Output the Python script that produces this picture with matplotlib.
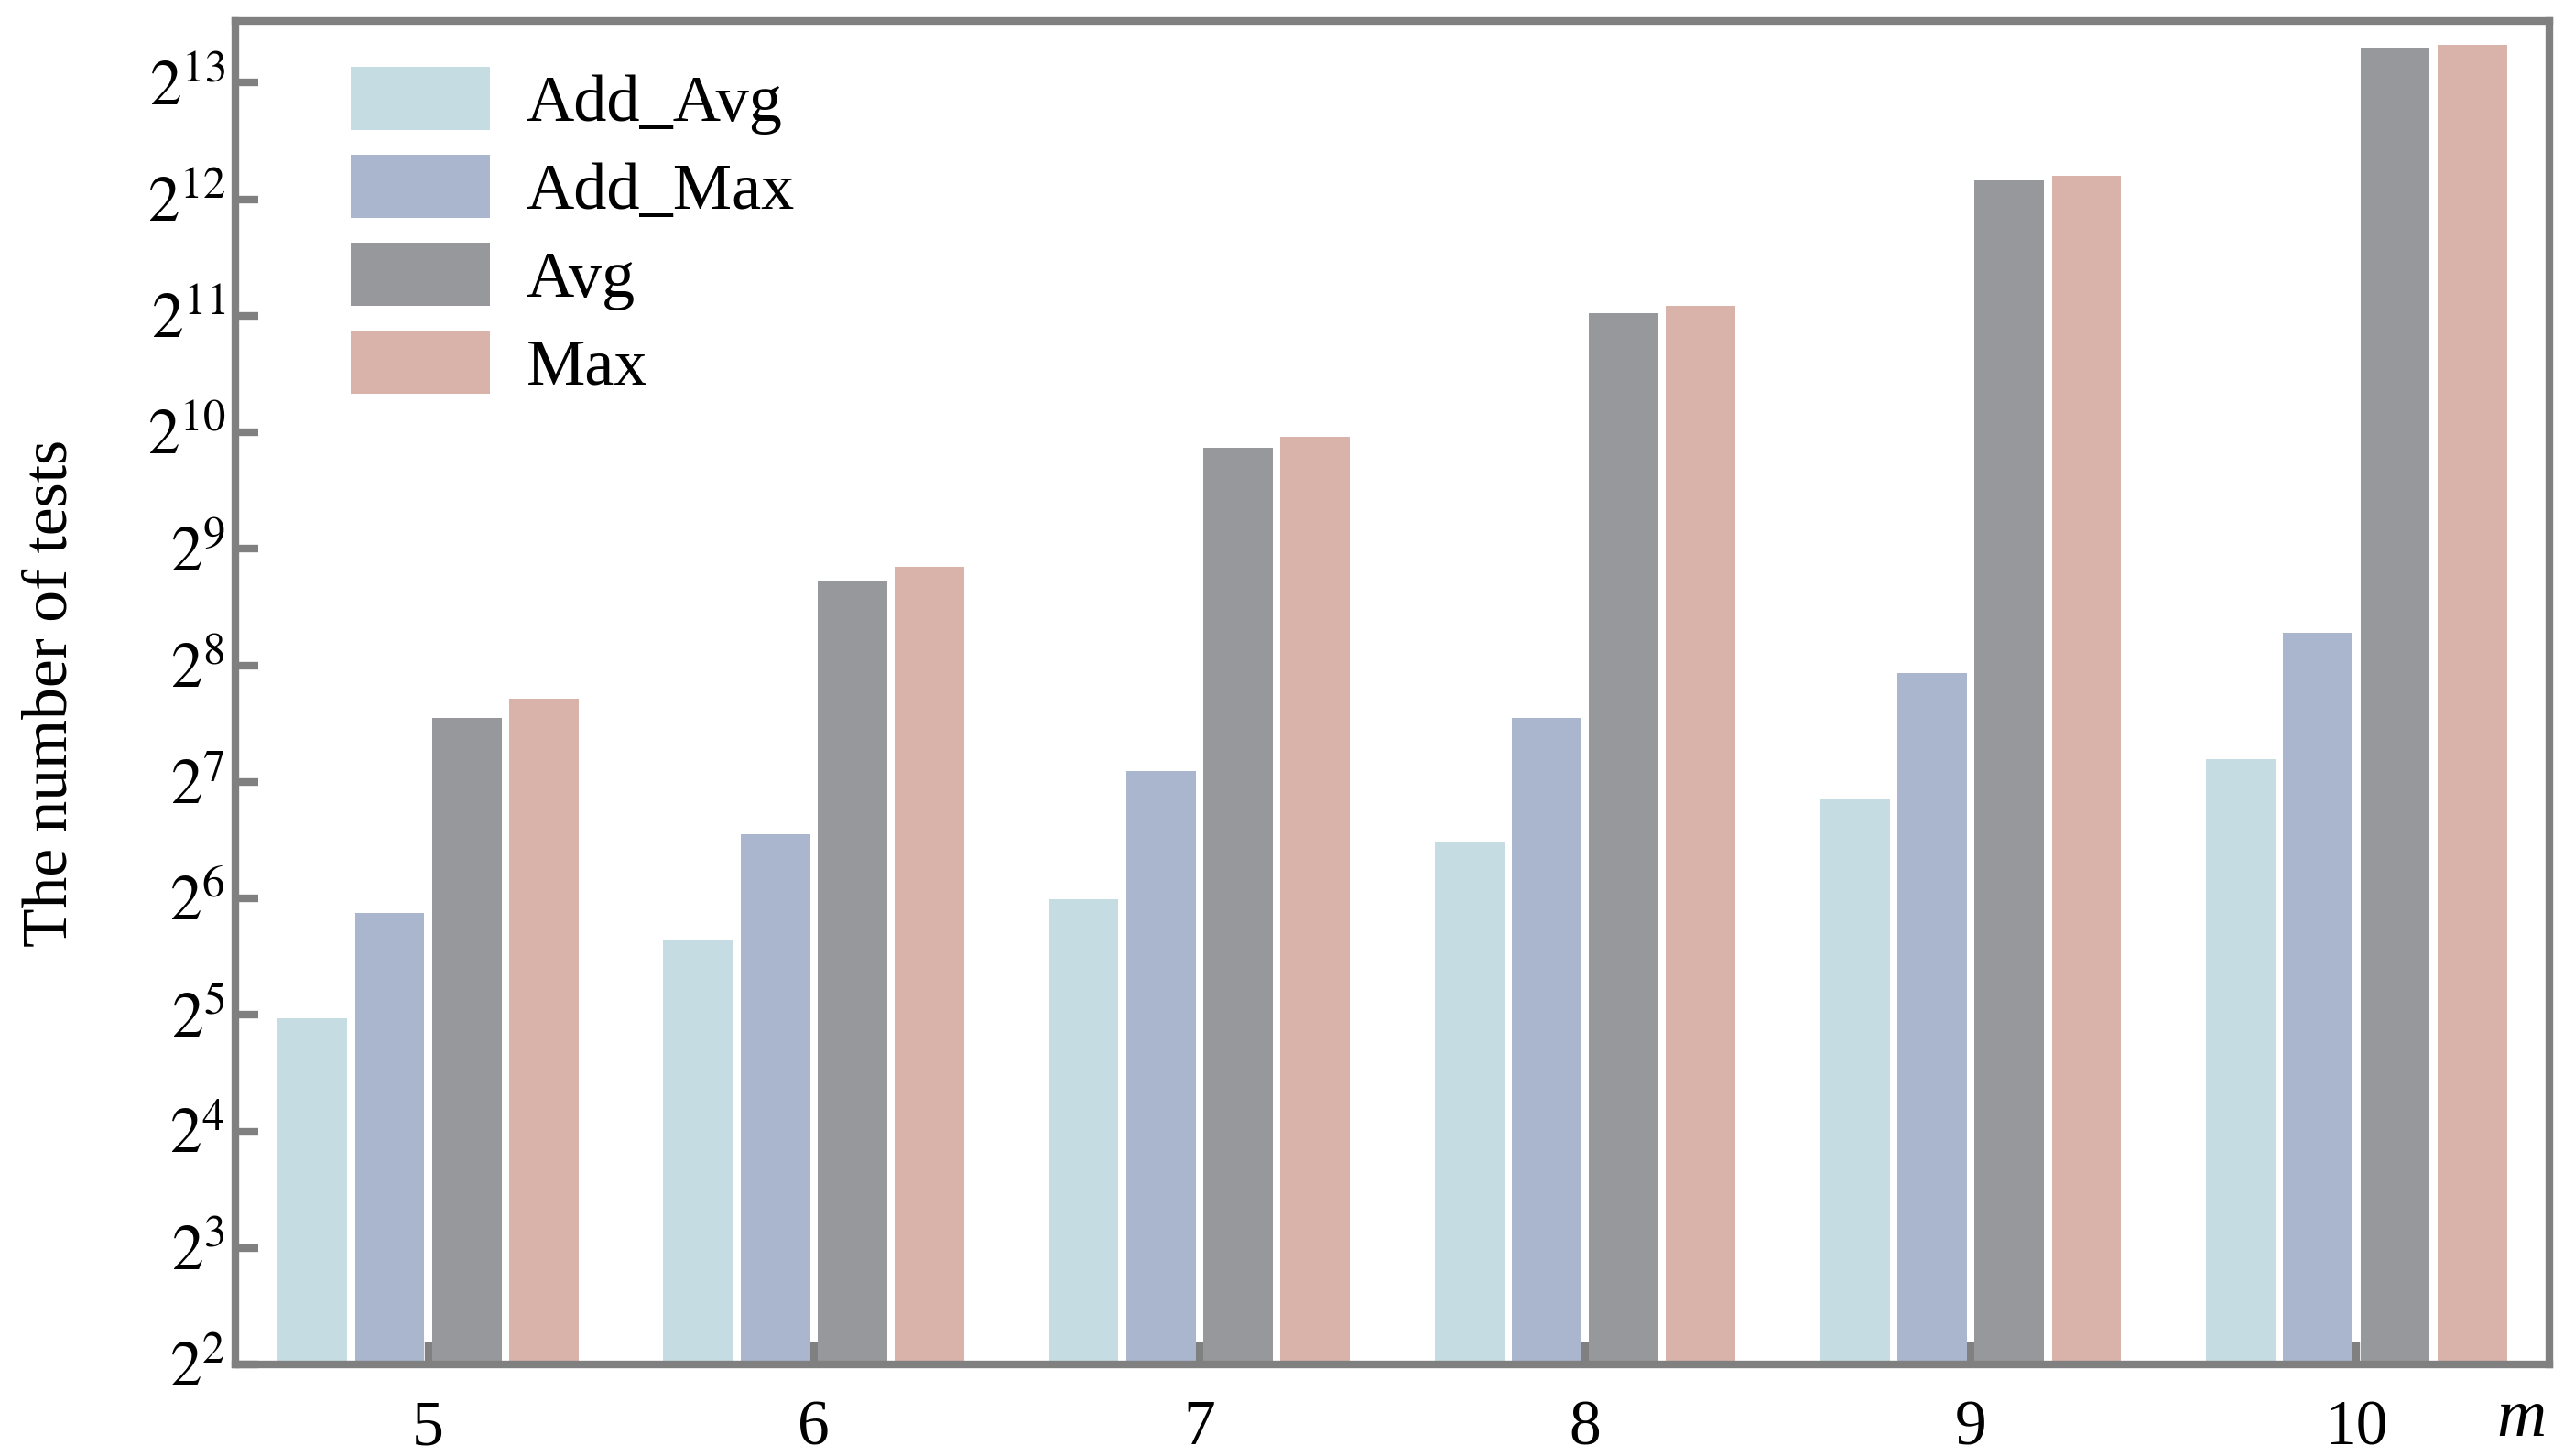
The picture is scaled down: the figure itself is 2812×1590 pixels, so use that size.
import numpy as np
import matplotlib
matplotlib.use("Agg")
import matplotlib.pyplot as plt

plt.rcParams['font.family'] = ['Liberation Serif', 'DejaVu Serif']
plt.rcParams['mathtext.fontset'] = 'stix'

# data (log2 scale)
m_values = [5, 6, 7, 8, 9, 10]
series_names = ["Add_Avg", "Add_Max", "Avg", "Max"]
add_avg = [31.3, 49.8, 63.6, 89.8, 115.4, 146.7]
add_max = [58.7, 93.8, 136.6, 187.5, 245, 311]
avg = [187.5, 423, 933, 2077, 4593, 10080]
max_vals = [210, 459, 996, 2175, 4722, 10250]
colors = ["#C5DCE3", "#AAB6CD", "#97989C", "#D9B2A9"]

spine_color = "#808080"

fig = plt.figure(figsize=(14.06, 7.95), dpi=200)
ax = fig.add_axes([0.0914, 0.0629, 0.8986, 0.9226])
ax.set_yscale('log', base=2)

x = np.array(m_values, dtype=float)
width = 0.18
offsets = [-0.3, -0.1, 0.1, 0.3]
for vals, name, col, off in zip([add_avg, add_max, avg, max_vals], series_names, colors, offsets):
    ax.bar(x + off, vals, width, color=col, label=name)

ax.set_xlim(4.5, 10.5)
ax.set_ylim(4, 2 ** 13.53)

yt = [2 ** k for k in range(2, 14)]
ax.set_yticks(yt)
ax.set_yticklabels([f'$2^{{{k}}}$' for k in range(2, 14)])
ax.yaxis.set_minor_locator(matplotlib.ticker.NullLocator())
ax.set_xticks(m_values)
ax.set_xticklabels([str(v) for v in m_values])

ax.set_axisbelow(True)
ax.tick_params(axis='both', direction='in', length=9, width=3, color=spine_color,
               labelsize=25, top=False, right=False)
ax.tick_params(axis='x', pad=14)
ax.tick_params(axis='y', pad=4)
for s in ax.spines.values():
    s.set_color(spine_color)
    s.set_linewidth(3)

ax.set_ylabel("The number of tests", fontsize=25)
ax.yaxis.set_label_coords(-0.067, 0.5)

fig.text(0.979, 0.014, "m", fontsize=27, fontstyle='italic', ha='center', va='baseline')

ax.legend(loc='upper left', bbox_to_anchor=(0.05, 0.966), frameon=False, fontsize=26,
          handlelength=2.1, handleheight=1.1, handletextpad=0.55, labelspacing=0.3,
          borderpad=0, borderaxespad=0)

fig.savefig("out.png", dpi=200)
